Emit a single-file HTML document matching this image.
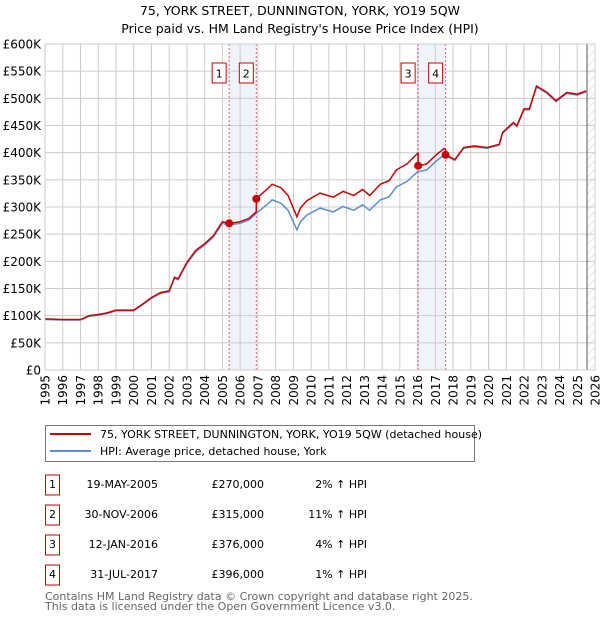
<!DOCTYPE html>
<html><head><meta charset="utf-8"><style>
body{margin:0;background:#fff;font-family:"DejaVu Sans","Liberation Sans",sans-serif;}
#wrap{position:relative;width:600px;height:620px;overflow:hidden;}
svg text{font-family:"DejaVu Sans","Liberation Sans",sans-serif;}
</style></head><body><div id="wrap">
<svg id="chart" width="600" height="620"></svg>
</div>
<script>
const hpiYears=[1995,1996,1997,1997.5,1998,1998.5,1999,2000,2000.5,2001,2001.5,2002,2002.3,2002.5,2003,2003.5,2004,2004.5,2005,2005.4,2006,2006.5,2007,2007.5,2007.8,2008.3,2008.7,2009.2,2009.4,2009.75,2010.5,2011.25,2011.8,2012.4,2012.9,2013.3,2013.9,2014.4,2014.8,2015.4,2016,2016.5,2017.1,2017.5,2018.1,2018.6,2019.2,2019.9,2020.6,2020.8,2021.4,2021.6,2022,2022.3,2022.7,2023.3,2023.8,2024.4,2025,2025.5];
const hpiValues=[93,92,92,99,101,104,109,109,120,132,141,144,169,166,196,218,230,245,270,267,270,276,291,304,313,307,294,258,273,285,298,291,301,294,304,294,313,319,337,347,365,368,386,396,386,408,411,408,414,436,454,448,479,479,521,509,494,509,506,512];
const saleDates=[2005.38,2006.91,2016.03,2017.58];
const salePrices=[270,315,376,396];
const saleLabels=["1","2","3","4"];
const yTicks=[0,50,100,150,200,250,300,350,400,450,500,550,600];
const xTicks=[1995,1996,1997,1998,1999,2000,2001,2002,2003,2004,2005,2006,2007,2008,2009,2010,2011,2012,2013,2014,2015,2016,2017,2018,2019,2020,2021,2022,2023,2024,2025,2026];
const tableDates=["19-MAY-2005","30-NOV-2006","12-JAN-2016","31-JUL-2017"];
const tablePrices=["£270,000","£315,000","£376,000","£396,000"];
const tablePcts=["2% ↑ HPI","11% ↑ HPI","4% ↑ HPI","1% ↑ HPI"];

const L=45,R=595,T=44,B=370;
const X=y=>L+(y-1995)/31*(R-L);
const Y=v=>B-v/600*(B-T);
const NS="http://www.w3.org/2000/svg";
const svg=document.getElementById('chart');
function mk(tag,attrs,parent){const e=document.createElementNS(NS,tag);for(const k in attrs)e.setAttribute(k,attrs[k]);(parent||svg).appendChild(e);return e;}
function hpiAt(t){for(let i=0;i<hpiYears.length-1;i++){if(t>=hpiYears[i]&&t<=hpiYears[i+1]){const f=(t-hpiYears[i])/(hpiYears[i+1]-hpiYears[i]);return hpiValues[i]+f*(hpiValues[i+1]-hpiValues[i]);}}return hpiValues[hpiValues.length-1];}

let t=mk('text',{x:300,y:15,'text-anchor':'middle','font-size':12.5,fill:'#000'});t.textContent="75, YORK STREET, DUNNINGTON, YORK, YO19 5QW";

t=mk('text',{x:300,y:33,'text-anchor':'middle','font-size':12.5,fill:'#000'});t.textContent="Price paid vs. HM Land Registry's House Price Index (HPI)";


for(let k=0;k<4;k+=2){const r=mk('rect',{x:X(saleDates[k]),y:T,width:X(saleDates[k+1])-X(saleDates[k]),height:B-T,fill:'#eef3fc'});
}
const defs=mk('defs',{});const pat=mk('pattern',{id:'hatch',width:6,height:6,patternUnits:'userSpaceOnUse',patternTransform:'rotate(45)'},defs);
mk('line',{x1:0,y1:0,x2:0,y2:6,stroke:'#ccc','stroke-width':1},pat);
const hr=mk('rect',{x:X(2025.55),y:T,width:R-X(2025.55),height:B-T,fill:'url(#hatch)'});

yTicks.forEach(v=>{const g=mk('line',{x1:L,x2:R,y1:Y(v),y2:Y(v),stroke:'#ccc','stroke-width':1});

const tx=mk('text',{x:L-4,y:Y(v)+4.5,'text-anchor':'end','font-size':12,fill:'#000'});tx.textContent=v===0?'£0':'£'+v+'K';
});
xTicks.forEach(y=>{const g=mk('line',{x1:X(y),x2:X(y),y1:T,y2:B,stroke:'#ccc','stroke-width':1});

const tx=mk('text',{x:0,y:0,'text-anchor':'end','font-size':12,fill:'#000',transform:'translate('+(X(y)+4.5)+',375) rotate(-90)'});tx.textContent=y;
});
const el=mk('line',{x1:X(2025.55),x2:X(2025.55),y1:T,y2:B,stroke:'#555','stroke-width':1});

saleDates.forEach((d,k)=>{const l=mk('line',{x1:X(d),x2:X(d),y1:T,y2:B,stroke:'#e06060','stroke-width':1,'stroke-dasharray':'2,2'});

const bx=mk('rect',{x:X(d)-17,y:63,width:14,height:20,fill:'#fff',stroke:'#c00','stroke-width':1});

const tx=mk('text',{x:X(d)-10,y:77.5,'text-anchor':'middle','font-size':11,fill:'#000'});tx.textContent=saleLabels[k];
});
const hp=hpiYears.map((y,i)=>X(y).toFixed(1)+','+Y(hpiValues[i]).toFixed(1)).join(' ');
const hl=mk('polyline',{points:hp,fill:'none',stroke:'#5b8fd4','stroke-width':1.5});

const ratios=saleDates.map((d,k)=>salePrices[k]/hpiAt(d));
let pts=[];
hpiYears.forEach((y,i)=>{let k=0;for(let j=0;j<saleDates.length;j++)if(y>=saleDates[j])k=j;
pts.push([y,hpiValues[i]*ratios[k]]);});
saleDates.forEach((d,k)=>{if(k>0)pts.push([d-0.001,hpiAt(d)*ratios[k-1]]);pts.push([d,salePrices[k]]);});
pts.sort((a,b)=>a[0]-b[0]);
const pl=mk('polyline',{points:pts.map(p=>X(p[0]).toFixed(1)+','+Y(p[1]).toFixed(1)).join(' '),fill:'none',stroke:'#cc0000','stroke-width':1.5});

saleDates.forEach((d,k)=>{const c=mk('circle',{cx:X(d),cy:Y(salePrices[k]),r:4,fill:'#cc0000'});
});
const pb=mk('rect',{x:L,y:T,width:R-L,height:B-T,fill:'none',stroke:'#ccc'});

const lg=mk('rect',{x:45.5,y:425.5,width:429,height:36,fill:'#fff',stroke:'#777'});

let ll=mk('line',{x1:50,x2:91,y1:434,y2:434,stroke:'#cc0000','stroke-width':2});
t=mk('text',{x:100,y:438,'font-size':11,fill:'#000'});t.textContent="75, YORK STREET, DUNNINGTON, YORK, YO19 5QW (detached house)";

ll=mk('line',{x1:50,x2:91,y1:451,y2:451,stroke:'#5b8fd4','stroke-width':2});
t=mk('text',{x:100,y:455,'font-size':11,fill:'#000'});t.textContent="HPI: Average price, detached house, York";

for(let k=0;k<4;k++){const yc=485+k*30;
const b=mk('rect',{x:45.5,y:yc-10,width:14,height:20,fill:'#fff',stroke:'#c00'});
let tx=mk('text',{x:52.5,y:yc+3,'text-anchor':'middle','font-size':11});tx.textContent=saleLabels[k];
tx=mk('text',{x:158,y:yc+3,'text-anchor':'end','font-size':11});tx.textContent=tableDates[k];
tx=mk('text',{x:264,y:yc+3,'text-anchor':'end','font-size':11});tx.textContent=tablePrices[k];
tx=mk('text',{x:367,y:yc+3,'text-anchor':'end','font-size':11});tx.textContent=tablePcts[k];}
t=mk('text',{x:45,y:600,'font-size':11,fill:'#666'});t.textContent="Contains HM Land Registry data © Crown copyright and database right 2025.";

t=mk('text',{x:45,y:610,'font-size':11,fill:'#666'});t.textContent="This data is licensed under the Open Government Licence v3.0.";

</script></body></html>
